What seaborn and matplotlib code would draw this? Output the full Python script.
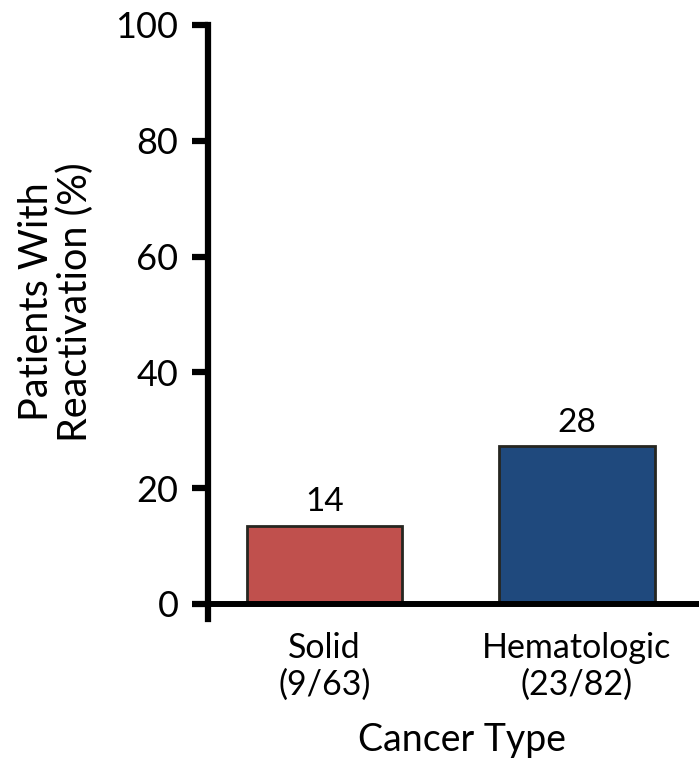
import matplotlib
matplotlib.use("Agg")
import matplotlib.pyplot as plt
import seaborn as sns
import pandas as pd

categories = ["Solid\n(9/63)", "Hematologic\n(23/82)"]
values = [13.5, 27.2]
value_labels = ["14", "28"]
colors = ["#C0504D", "#1F497D"]
yticks = [0, 20, 40, 60, 80, 100]

sns.set_style("white")
plt.rcParams["font.family"] = ["Lato", "DejaVu Sans"]
plt.rcParams["text.color"] = "black"
plt.rcParams["axes.labelcolor"] = "black"
plt.rcParams["xtick.color"] = "black"
plt.rcParams["ytick.color"] = "black"

df = pd.DataFrame({"cat": categories, "val": values})

W, H = 699, 761
fig = plt.figure(figsize=(W / 100, H / 100), dpi=100)
ax_left = 208.3 / W
ax_bottom = 1 - 619 / H
ax_top = 1 - 25 / H
ax = fig.add_axes([ax_left, ax_bottom, 1 - ax_left, ax_top - ax_bottom])

sns.barplot(data=df, x="cat", y="val", hue="cat", palette=colors, legend=False,
            width=0.614, edgecolor="#262620", linewidth=2, saturation=1, ax=ax)

ax.set_xlim(-0.46, 1.483)
ax.set_ylim(-2.6, 100)
ax.set_yticks(yticks)
ax.set_yticklabels([str(t) for t in yticks], fontsize=26)

for sp in ["top", "right", "bottom"]:
    ax.spines[sp].set_visible(False)
ax.spines["left"].set_linewidth(4.5)
ax.spines["left"].set_color("black")
ax.tick_params(axis="y", length=11.5, width=4.5, color="black", pad=10, left=True)
ax.tick_params(axis="x", length=0, pad=9)
for lab in ax.get_xticklabels():
    lab.set_fontsize(24.5)
    lab.set_linespacing(1.2)

# x axis line at 0 extending left like a tick
ax.axhline(0, xmin=(194 - 208.3) / (W - 208.3), xmax=1, color="black",
           lw=4.3, clip_on=False, solid_capstyle="butt", zorder=5)

bars = sorted([p for p in ax.patches if p.get_height() > 0], key=lambda p: p.get_x())
for p, lab in zip(bars, value_labels):
    ax.annotate(lab, (p.get_x() + p.get_width() / 2, p.get_height()),
                xytext=(0, 6), textcoords="offset points",
                ha="center", va="bottom", fontsize=24)

ax.set_xlabel("Cancer Type", fontsize=27)
ax.xaxis.set_label_coords((462.5 - 208.3) / (W - 208.3), -0.174)
ax.xaxis.label.set_va("top")
ax.set_ylabel("Patients With\nReactivation (%)", fontsize=28.5, linespacing=1.05)
ax.yaxis.label.set_va("center")
ax.yaxis.set_label_coords((56 - 208.3) / (W - 208.3), (619 - 302) / 594)

fig.savefig("out.png", dpi=100)
